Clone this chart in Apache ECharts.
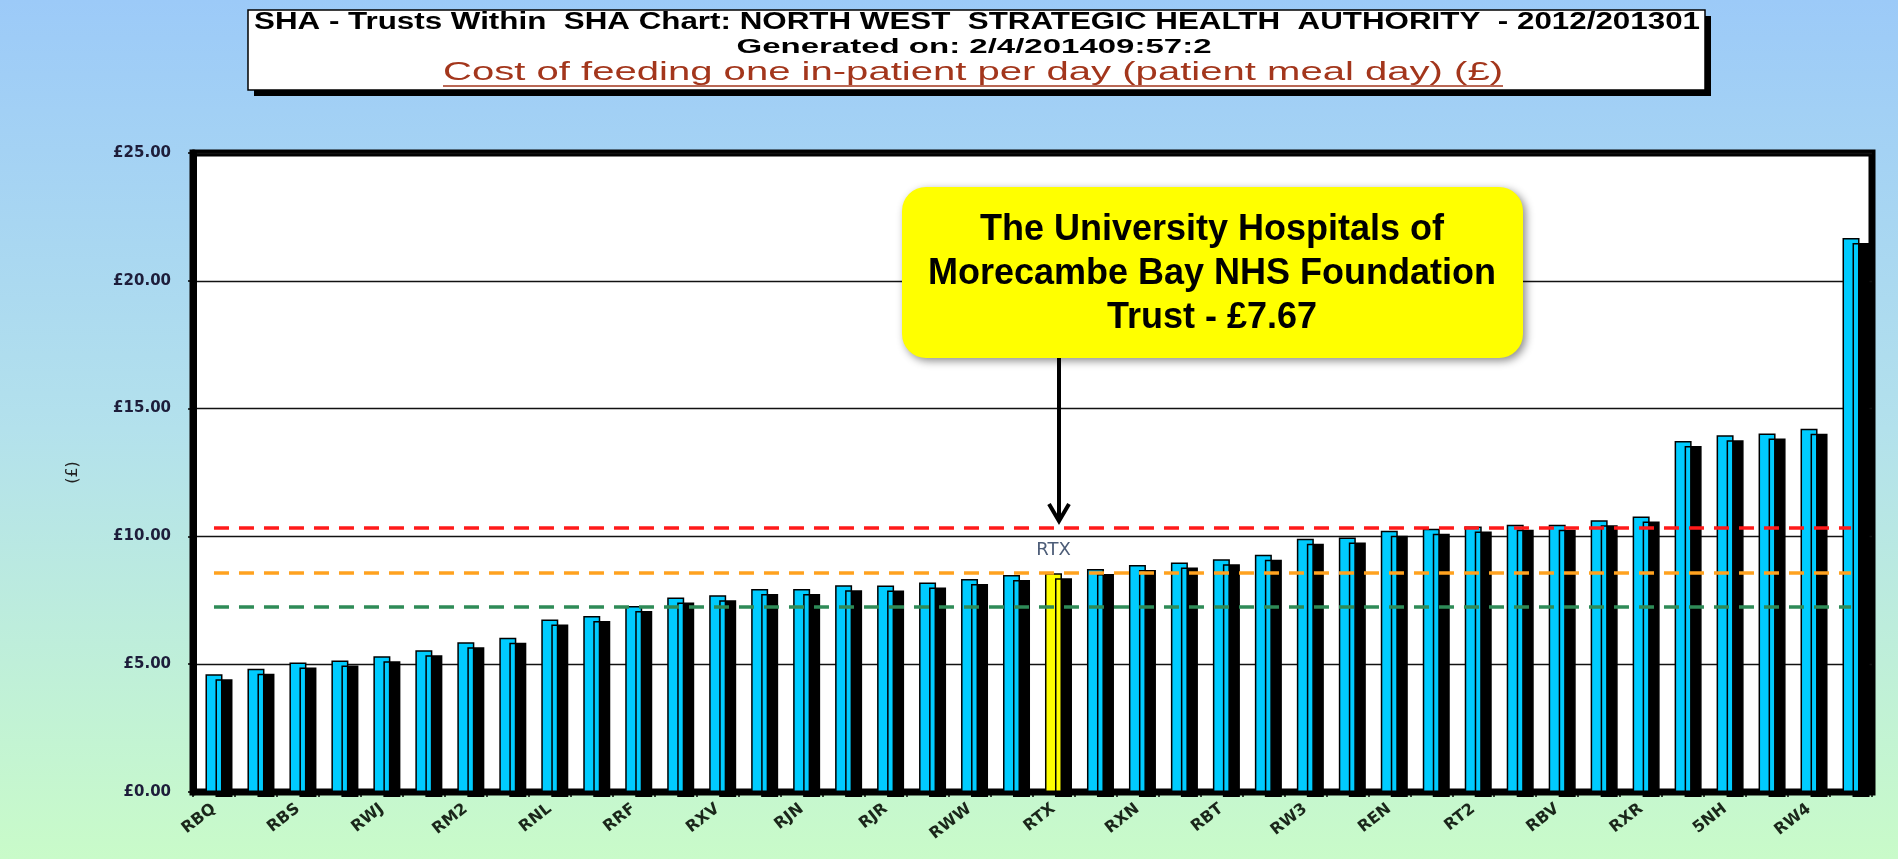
<!DOCTYPE html>
<html>
<head>
<meta charset="utf-8">
<script src="https://cdn.jsdelivr.net/npm/echarts@6/dist/echarts.min.js"></script>
<style>
html,body{margin:0;padding:0;width:1898px;height:859px;overflow:hidden;}
#c{width:1898px;height:859px;background:linear-gradient(to bottom,#9ccaf8 0%,#b3e1ec 50%,#c9fbc9 100%);}
</style>
</head>
<body>
<div id="c"></div>
<script>
// ---- data ----
const trustCodes = ['RBQ','','RBS','','RWJ','','RM2','','RNL','','RRF','','RXV','','RJN','','RJR','','RWW','',
                    'RTX','','RXN','','RBT','','RW3','','REN','','RT2','','RBV','','RXR','','5NH','','RW4',''];
const costPerMealDay = [4.61,4.82,5.07,5.14,5.31,5.55,5.86,6.03,6.75,6.89,
                        7.28,7.61,7.70,7.94,7.94,8.09,8.08,8.20,8.33,8.49,
                        8.56,8.72,8.88,8.98,9.11,9.28,9.91,9.96,10.22,10.30,
                        10.39,10.46,10.46,10.63,10.78,13.73,13.96,14.03,14.21,21.67];
const highlightCode = 'RTX';
const benchmarkValues = [10.33, 8.59, 7.23];
const yTicks = [0, 5, 10, 15, 20, 25];
const titleLines = [
  'SHA - Trusts Within  SHA Chart: NORTH WEST  STRATEGIC HEALTH  AUTHORITY  - 2012/201301',
  'Generated on: 2/4/201409:57:2',
  'Cost of feeding one in-patient per day (patient meal day) (£)'
];
const calloutText = 'The University Hospitals of\nMorecambe Bay NHS Foundation\nTrust - £7.67';

// ---- build ----
const benchColors = ['#ff1a1a', '#ffa21f', '#2e8b57'];
const hiIndex = trustCodes.indexOf(highlightCode);
const barData = costPerMealDay.map((v, i) => i === hiIndex ? {
  value: v,
  itemStyle: {color: '#ffff00'},
  label: {show: true, position: 'top', distance: 14, formatter: '{b}', color: '#4d5d78',
          fontSize: 18, fontFamily: 'DejaVu Sans, sans-serif'}
} : v);

const mctx = document.createElement('canvas').getContext('2d');
function stretch(text, font, target) { mctx.font = font; return target / mctx.measureText(text).width; }
const fam = '"Liberation Sans Narrow", "Liberation Sans", Arial, sans-serif';
const f1 = 'bold 23px ' + fam, f2 = 'bold 21px ' + fam, f3 = '25px ' + fam;

const chart = echarts.init(document.getElementById('c'), null, {renderer: 'canvas'});
const option = {
  animation: false,
  backgroundColor: 'transparent',
  grid: {left: 193, right: 26, top: 153, bottom: 67, show: true, backgroundColor: '#ffffff',
         borderColor: '#000', borderWidth: 7},
  xAxis: {
    type: 'category', data: trustCodes, boundaryGap: true,
    axisLine: {show: true, lineStyle: {color: '#000', width: 6}},
    axisTick: {show: true, interval: 0, length: 5, lineStyle: {color: '#000', width: 1.5}},
    axisLabel: {interval: 1, rotate: 38, margin: 15, fontSize: 16, fontWeight: 'bold',
                fontFamily: 'DejaVu Sans, sans-serif', color: '#1a261a'},
    splitLine: {show: false}
  },
  yAxis: {
    type: 'value', min: yTicks[0], max: yTicks[yTicks.length - 1], interval: yTicks[1] - yTicks[0],
    name: '(£)', nameLocation: 'middle', nameGap: 112, nameRotate: 90,
    nameTextStyle: {fontSize: 16, color: '#222', fontFamily: 'DejaVu Sans, sans-serif'},
    axisLine: {show: true, lineStyle: {color: '#000', width: 7}},
    axisTick: {show: true, length: 5, lineStyle: {color: '#000', width: 1.5}},
    axisLabel: {formatter: v => '£' + v.toFixed(2), margin: 22, fontSize: 15, fontWeight: 'bold',
                fontFamily: 'DejaVu Sans, sans-serif', color: '#1d1d3a'},
    splitLine: {show: true, lineStyle: {color: '#111', width: 1.3}}
  },
  series: [{
    type: 'bar', data: barData, barWidth: 17,
    itemStyle: {color: '#00ccff', borderColor: '#000', borderWidth: 1.5,
                shadowColor: '#000', shadowBlur: 0, shadowOffsetX: 10, shadowOffsetY: 5},
    markLine: {
      silent: true, symbol: ['none', 'none'], label: {show: false}, animation: false,
      data: benchmarkValues.map((v, k) => [
        {xAxis: 0, yAxis: v, lineStyle: {color: benchColors[k], type: [15, 10], width: 3.5}},
        {xAxis: trustCodes.length - 1, yAxis: v}
      ])
    }
  }],
  graphic: [
    // title box
    {type: 'rect', z: 100, shape: {x: 254, y: 16, width: 1457, height: 80}, style: {fill: '#000'}},
    {type: 'rect', z: 101, shape: {x: 248, y: 10, width: 1457, height: 80},
     style: {fill: '#fff', stroke: '#000', lineWidth: 1.5}},
    {type: 'text', z: 102, x: 977, y: 23, scaleX: stretch(titleLines[0], f1, 1446),
     style: {text: titleLines[0], font: f1, fill: '#000', align: 'center', verticalAlign: 'middle'}},
    {type: 'text', z: 102, x: 974, y: 47, scaleX: stretch(titleLines[1], f2, 475),
     style: {text: titleLines[1], font: f2, fill: '#000', align: 'center', verticalAlign: 'middle'}},
    {type: 'text', z: 102, x: 973, y: 73, scaleX: stretch(titleLines[2], f3, 1060),
     style: {text: titleLines[2], font: f3, fill: '#a3361c', align: 'center', verticalAlign: 'middle'}},
    {type: 'line', z: 102, shape: {x1: 443, y1: 86, x2: 1503, y2: 86}, style: {stroke: '#a3361c', lineWidth: 1.5}},
    // callout arrow
    {type: 'line', z: 100, shape: {x1: 1059, y1: 350, x2: 1059, y2: 520}, style: {stroke: '#000', lineWidth: 4}},
    {type: 'polyline', z: 100, shape: {points: [[1049, 504], [1059, 521], [1069, 504]]},
     style: {stroke: '#000', lineWidth: 4, fill: null}},
    // callout box
    {type: 'rect', z: 103, shape: {x: 902, y: 187, width: 621, height: 171, r: 24},
     style: {fill: '#ffff00', shadowBlur: 8, shadowColor: 'rgba(0,0,0,0.45)', shadowOffsetX: 3, shadowOffsetY: 3}},
    {type: 'text', z: 104, x: 1212, y: 274,
     style: {text: calloutText, font: 'bold 36px "Liberation Sans", Arial, sans-serif', fill: '#000',
             align: 'center', verticalAlign: 'middle', lineHeight: 44}}
  ]
};
chart.setOption(option);
</script>
</body>
</html>
